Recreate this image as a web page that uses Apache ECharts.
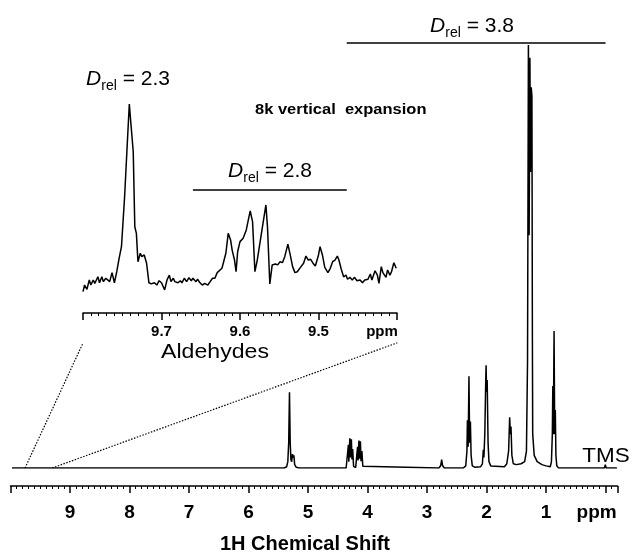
<!DOCTYPE html>
<html>
<head>
<meta charset="utf-8">
<script src="https://cdn.jsdelivr.net/npm/echarts@6/dist/echarts.min.js"></script>
<style>
  html, body { margin: 0; padding: 0; background: #fff; }
  #main { width: 631px; height: 552px; }
</style>
</head>
<body>
<div id="main"></div>
<script>
// Full 1H spectrum, points as [ppm, intensity]
const mainSpectrum = [
  [9.975, 0], [8.0, 0], [7.28, 0], [7.26, 0.4], [7.24, 0], [5.40, 0],
  [5.36, 0.3], [5.34, 1.5], [5.325, 6], [5.312, 17.9], [5.300, 6], [5.288, 2],
  [5.275, 1.5], [5.262, 3.3], [5.25, 2.5], [5.238, 3.0], [5.225, 0.8], [5.20, 0.2],
  [5.15, 0], [4.36, 0], [4.335, 0.4], [4.322, 5.5], [4.315, 1.5], [4.298, 7.0],
  [4.29, 2.5], [4.272, 6.8], [4.262, 2], [4.25, 4.5], [4.235, 0.4], [4.20, 0.1],
  [4.18, 0.4], [4.168, 5.0], [4.16, 1.8], [4.145, 6.5], [4.135, 2.2], [4.12, 6.3],
  [4.11, 1.6], [4.095, 4.0], [4.08, 0.4], [4.05, 0], [2.80, 0], [2.77, 0.6],
  [2.755, 2.0], [2.74, 0.6], [2.71, 0], [2.39, 0], [2.35, 0.5], [2.33, 4],
  [2.322, 11.3], [2.31, 5], [2.296, 21.7], [2.285, 6], [2.272, 11], [2.26, 3],
  [2.24, 0.5], [2.20, 0.2], [2.10, 0.3], [2.07, 1], [2.055, 4.3], [2.045, 2.5],
  [2.03, 8], [2.015, 20], [2.008, 24.3], [2.0, 18], [1.99, 20.8], [1.975, 6],
  [1.96, 1.5], [1.93, 0.5], [1.70, 0.3], [1.66, 1], [1.63, 4], [1.612, 12.0],
  [1.60, 8], [1.59, 9.8], [1.575, 3], [1.55, 1], [1.50, 0.8], [1.42, 1.0],
  [1.36, 1.5], [1.33, 4], [1.312, 25], [1.297, 100], [1.285, 55], [1.272, 97],
  [1.262, 70], [1.25, 90], [1.238, 88], [1.23, 30], [1.225, 8], [1.20, 3],
  [1.15, 1.5], [1.07, 0.8], [1.00, 0.5], [0.93, 0.3], [0.91, 1.5], [0.895, 8],
  [0.887, 19.4], [0.878, 8], [0.866, 32.4], [0.855, 8], [0.845, 13.7], [0.835, 3],
  [0.82, 0.5], [0.79, 0], [0.02, 0], [0.005, 0.8], [-0.01, 0], [-0.19, 0]
];

// Aldehyde region, 8k vertical expansion, [ppm, intensity]
const aldehydeSpectrum = [
  [9.800, 0.2], [9.798, 3.7], [9.795, 1.4], [9.792, 6.4], [9.790, 3.7], [9.787, 6.4],
  [9.785, 4.6], [9.781, 8.1], [9.779, 4.9], [9.776, 8.1], [9.774, 5.5], [9.771, 7.3],
  [9.769, 6.8], [9.766, 5.5], [9.763, 10.3], [9.760, 4.9], [9.757, 10.8], [9.754, 17.9],
  [9.751, 24.1], [9.747, 50.7], [9.744, 75.5], [9.741, 100], [9.739, 89.7], [9.736, 74.6],
  [9.734, 34.7], [9.732, 31.2], [9.730, 16.1], [9.727, 20.6], [9.725, 18.8], [9.722, 19.7],
  [9.719, 15.3], [9.716, 4.9], [9.713, 4.3], [9.709, 4.9], [9.706, 3.7], [9.703, 6.0],
  [9.700, 4.9], [9.696, 1.1], [9.693, 6.4], [9.690, 9.0], [9.688, 5.5], [9.685, 7.3],
  [9.683, 5.5], [9.679, 4.9], [9.676, 6.0], [9.674, 4.9], [9.671, 7.3], [9.668, 5.5],
  [9.665, 7.6], [9.662, 6.0], [9.660, 7.3], [9.656, 5.5], [9.654, 6.8], [9.651, 4.9],
  [9.648, 3.7], [9.645, 4.6], [9.641, 3.7], [9.638, 5.5], [9.635, 7.3], [9.632, 7.3],
  [9.629, 10.3], [9.627, 9.6], [9.623, 12.6], [9.621, 11.7], [9.618, 20.6], [9.615, 31.2],
  [9.612, 27.7], [9.610, 22.3], [9.607, 17.0], [9.605, 10.8], [9.603, 21.4], [9.600, 26.8],
  [9.596, 28.6], [9.592, 33.0], [9.587, 43.2], [9.584, 37.4], [9.581, 10.8], [9.578, 17.0],
  [9.572, 33.0], [9.567, 46.3], [9.565, 34.7], [9.562, 4.3], [9.559, 14.4], [9.555, 14.9],
  [9.552, 14.4], [9.549, 16.1], [9.546, 15.6], [9.543, 18.8], [9.539, 25.5], [9.536, 19.7],
  [9.533, 13.5], [9.530, 10.3], [9.527, 10.8], [9.523, 13.1], [9.519, 15.3], [9.516, 19.1],
  [9.513, 17.0], [9.510, 17.4], [9.507, 15.3], [9.504, 13.8], [9.500, 19.7], [9.498, 24.1],
  [9.495, 19.7], [9.492, 13.1], [9.488, 10.3], [9.485, 12.6], [9.482, 16.1], [9.479, 17.0],
  [9.476, 19.1], [9.474, 17.0], [9.471, 12.1], [9.468, 8.1], [9.465, 9.0], [9.463, 6.8],
  [9.460, 7.8], [9.457, 6.4], [9.454, 7.8], [9.451, 6.0], [9.447, 6.4], [9.444, 4.9],
  [9.441, 6.4], [9.437, 6.8], [9.434, 9.6], [9.432, 6.4], [9.428, 11.3], [9.425, 9.0],
  [9.423, 4.6], [9.420, 13.5], [9.418, 10.3], [9.414, 7.8], [9.412, 11.7], [9.409, 9.0],
  [9.407, 10.8], [9.404, 15.6], [9.401, 12.6]
];

// dotted guides from the inset axis down to the main baseline
const guideLeft = [[9.756, 0], [8.78, 29.6]];
const guideRight = [[9.30, 0], [3.50, 29.6]];

// D_rel bars
const barMain = [[4.35, 100.5], [0.0, 100.5]];
const barAldehyde = [[9.66, 54.3], [9.464, 54.3]];

const font = "'Liberation Sans', Arial, sans-serif";
const black = "#000";

function dRel(value) {
  return `{d|D}{s|rel}{n| = ${value}}`;
}
const dRich = {
  d: { fontFamily: font, fontSize: 21, fontStyle: "italic", lineHeight: 28, verticalAlign: "middle", fill: black },
  s: { fontFamily: font, fontSize: 14, lineHeight: 28, verticalAlign: "bottom", fill: black },
  n: { fontFamily: font, fontSize: 21, lineHeight: 28, verticalAlign: "middle", fill: black },
};

const lineSeries = (data, xi, extra) =>
  Object.assign(
    {
      type: "line",
      xAxisIndex: xi,
      yAxisIndex: xi,
      data: data,
      showSymbol: false,
      symbol: "none",
      smooth: false,
      sampling: "none",
      silent: true,
      lineStyle: { color: black, width: 1.4 },
    },
    extra || {}
  );

const chart = echarts.init(document.getElementById("main"));

chart.setOption({
  animation: false,
  backgroundColor: "#fff",
  textStyle: { fontFamily: font },
  grid: [
    { left: 10.5, right: 13.5, top: 45, bottom: 84, outerBoundsMode: "none", containLabel: false },
    { left: 83, right: 234, top: 104, bottom: 260, outerBoundsMode: "none", containLabel: false },
  ],
  xAxis: [
    {
      gridIndex: 0,
      type: "value",
      min: -0.2,
      max: 10,
      minInterval: 1,
      maxInterval: 1,
      inverse: true,
      offset: 18,
      axisLine: { onZero: false, lineStyle: { color: black, width: 1.5 } },
      axisTick: { length: 7, lineStyle: { color: black, width: 1.5 } },
      minorTick: { show: true, splitNumber: 10, length: 3, lineStyle: { color: black, width: 1 } },
      splitLine: { show: false },
      axisLabel: {
        color: black,
        fontFamily: font,
        fontSize: 19,
        fontWeight: "bold",
        margin: 17,
        showMinLabel: true,
        showMaxLabel: true,
        formatter: (v) => {
          const r = Math.round(v);
          if (Math.abs(v - r) > 1e-6 || r === 10) return "";
          if (r === 0) return "{p|ppm}";
          return String(r);
        },
        rich: { p: { fontFamily: font, fontSize: 19, fontWeight: "bold", color: black, padding: [0, 18, 0, 0] } },
      },
      name: "1H Chemical Shift",
      nameLocation: "middle",
      nameGap: 48,
      nameTextStyle: { color: black, fontFamily: font, fontSize: 20, fontWeight: "bold", padding: [0, 18, 0, 0] },
    },
    {
      gridIndex: 1,
      type: "value",
      min: 9.4,
      max: 9.8,
      interval: 0.1,
      inverse: true,
      offset: 21,
      axisLine: { onZero: false, lineStyle: { color: black, width: 1.5 } },
      axisTick: { length: 7, lineStyle: { color: black, width: 1.5 } },
      minorTick: { show: true, splitNumber: 10, length: 3, lineStyle: { color: black, width: 1 } },
      splitLine: { show: false },
      axisLabel: {
        color: black,
        fontFamily: font,
        fontSize: 15,
        fontWeight: "bold",
        margin: 11,
        showMinLabel: true,
        showMaxLabel: true,
        formatter: (v) => {
          const t = v.toFixed(1);
          if (t === "9.8") return "";
          if (t === "9.4") return "{p|ppm}";
          return t;
        },
        rich: { p: { fontFamily: font, fontSize: 15, fontWeight: "bold", color: black, padding: [0, 30, 0, 0] } },
      },
    },
  ],
  yAxis: [
    { gridIndex: 0, type: "value", min: 0, max: 100, show: false },
    { gridIndex: 1, type: "value", min: 0, max: 100, show: false },
  ],
  series: [
    lineSeries(mainSpectrum, 0, { lineStyle: { color: black, width: 1.5 } }),
    lineSeries(aldehydeSpectrum, 1, { lineStyle: { color: black, width: 1.5 } }),
    lineSeries(guideLeft, 0, { lineStyle: { color: black, width: 1.2, type: [1.5, 1.5] } }),
    lineSeries(guideRight, 0, { lineStyle: { color: black, width: 1.2, type: [1.5, 1.5] } }),
    lineSeries(barMain, 0, { clip: false, lineStyle: { color: black, width: 1.5 } }),
    lineSeries(barAldehyde, 1, { clip: false, lineStyle: { color: black, width: 1.5 } }),
  ],
  graphic: [
    { type: "text", x: 472, y: 26, style: { text: dRel("3.8"), rich: dRich, align: "center", verticalAlign: "middle" } },
    { type: "text", x: 270, y: 171, style: { text: dRel("2.8"), rich: dRich, align: "center", verticalAlign: "middle" } },
    { type: "text", x: 128, y: 79, style: { text: dRel("2.3"), rich: dRich, align: "center", verticalAlign: "middle" } },
    {
      type: "text", x: 255, y: 110, scaleX: 1.1,
      style: { text: "8k vertical  expansion", font: `bold 15px ${font}`, fill: black, align: "left", verticalAlign: "middle" },
    },
    {
      type: "text", x: 215, y: 352, scaleX: 1.1,
      style: { text: "Aldehydes", font: `21px ${font}`, fill: black, align: "center", verticalAlign: "middle" },
    },
    {
      type: "text", x: 606, y: 456, scaleX: 1.07,
      style: { text: "TMS", font: `21px ${font}`, fill: black, align: "center", verticalAlign: "middle" },
    },
  ],
});
</script>
</body>
</html>
